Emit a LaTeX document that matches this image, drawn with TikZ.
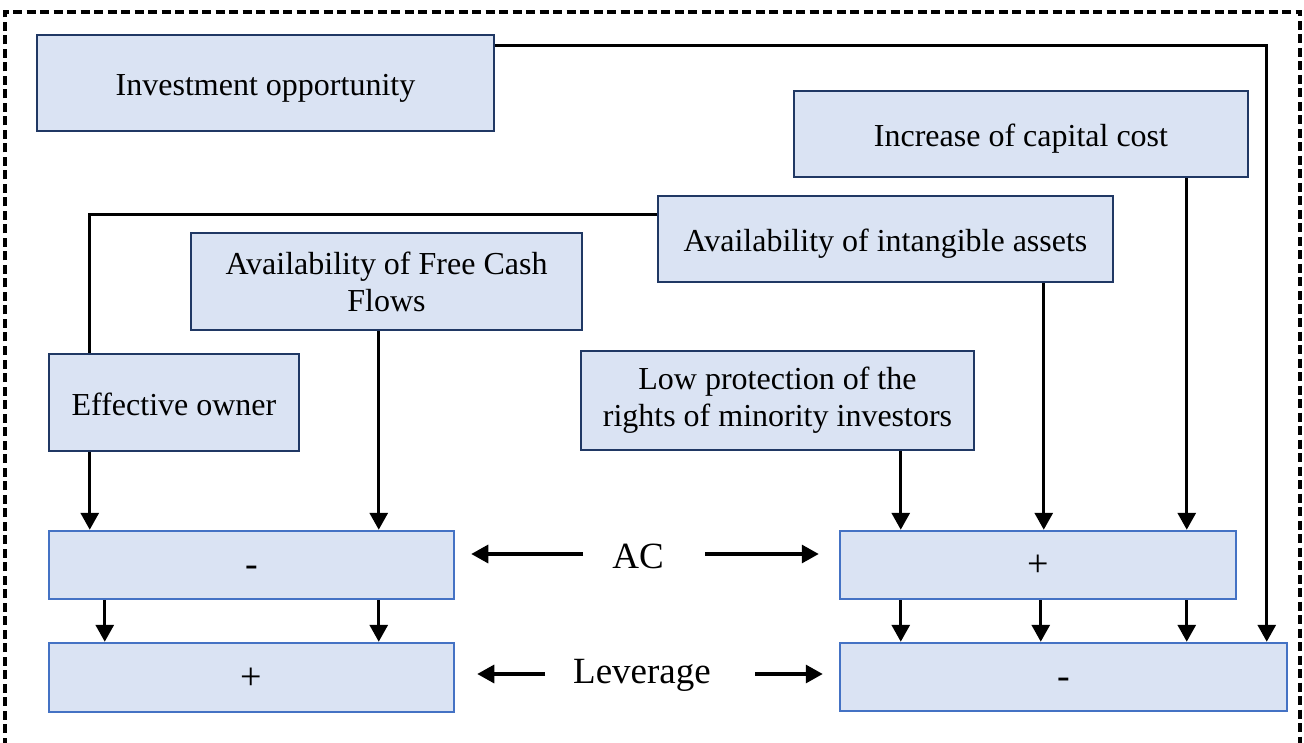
\documentclass[tikz,border=0pt]{standalone}
\usepackage{fontspec}
\setmainfont{Liberation Serif}
\usetikzlibrary{arrows.meta,calc}
\definecolor{boxfill}{HTML}{DAE3F3}
\definecolor{navyline}{HTML}{203864}
\definecolor{blueline}{HTML}{4472C4}
\begin{document}
\begin{tikzpicture}[x=1pt,y=-1pt,
  upbox/.style={draw=navyline,line width=2.5pt,fill=boxfill,inner sep=0pt,align=center,
     font=\fontsize{32}{37}\selectfont},
  oneline/.style={text height=30pt,text depth=5pt},
  lowbox/.style={draw=blueline,line width=2.5pt,fill=boxfill,inner sep=0pt,align=center,
     font=\fontsize{38}{44}\selectfont,text height=26pt,text depth=3pt},
  lbl/.style={inner sep=0pt,font=\fontsize{37}{44}\selectfont},
  conn/.style={line width=3.2pt},
  arr/.style={conn,-{Triangle[length=17pt,width=18pt]}},
  frame/.style={line width=3.4pt,dash pattern=on 9pt off 4.5pt}]
\useasboundingbox (0,0) rectangle (1304,743);
\clip (0,0) rectangle (1304,743);
\draw[frame] (5,760) -- (5,12) -- (1300,12) -- (1300,760);

\node[upbox,oneline,minimum width=457pt,minimum height=96pt] (inv) at (265.5,83) {Investment opportunity};
\node[upbox,oneline,minimum width=454pt,minimum height=86pt] (cap) at (1021,134) {Increase of capital cost};
\node[upbox,oneline,minimum width=455pt,minimum height=86pt] (intang) at (885.5,239) {Availability of intangible assets};
\node[upbox,minimum width=391pt,minimum height=97pt] (fcf) at (386.5,281.5) {Availability of Free Cash\\Flows};
\node[upbox,oneline,minimum width=250pt,minimum height=97pt] (owner) at (174,402.5) {Effective owner};
\node[upbox,minimum width=393pt,minimum height=99pt] (low) at (777.5,400.5) {Low protection of the\\rights of minority investors};

\node[lowbox,minimum width=405pt,minimum height=68pt] (lm) at (251.5,565) {-};
\node[lowbox,minimum width=405pt,minimum height=69pt] (lp) at (251.5,677.5) {+};
\node[lowbox,minimum width=396pt,minimum height=68pt] (rp) at (1038,565) {+};
\node[lowbox,minimum width=447pt,minimum height=68pt] (rm) at (1063.5,677) {-};

\node[lbl] (ac) at (638,556) {AC};
\node[lbl] (lev) at (642,675) {Leverage};

% Investment opportunity -> right "-" box
\coordinate (i1) at ($(inv.north east)+(0,12)$);
\draw[arr] (i1) -| ($(rm.north west)+(428,0)$);

% intangible assets -> effective owner
\coordinate (t1) at ($(intang.north west)+(0,20)$);
\coordinate (o1) at ($(owner.north west)+(42,0)$);
\draw[conn] (t1) -| (o1);

% into left "-" box
\coordinate (o2) at ($(owner.south west)+(42,0)$);
\draw[arr] (o2) -- (o2 |- lm.north);
\coordinate (f1) at ($(fcf.south west)+(189,0)$);
\draw[arr] (f1) -- (f1 |- lm.north);

% left "-" -> left "+"
\coordinate (l1) at ($(lm.south west)+(57,0)$);
\draw[arr] (l1) -- (l1 |- lp.north);
\coordinate (l2) at ($(lm.south west)+(331,0)$);
\draw[arr] (l2) -- (l2 |- lp.north);

% into right "+" box
\coordinate (p1) at ($(low.south west)+(321,0)$);
\draw[arr] (p1) -- (p1 |- rp.north);
\coordinate (p2) at ($(intang.south west)+(387,0)$);
\draw[arr] (p2) -- (p2 |- rp.north);
\coordinate (p3) at ($(cap.south west)+(394,0)$);
\draw[arr] (p3) -- (p3 |- rp.north);

% right "+" -> right "-"
\coordinate (r1) at ($(rp.south west)+(62,0)$);
\draw[arr] (r1) -- (r1 |- rm.north);
\coordinate (r2) at ($(rp.south west)+(202,0)$);
\draw[arr] (r2) -- (r2 |- rm.north);
\coordinate (r3) at ($(rp.south west)+(348,0)$);
\draw[arr] (r3) -- (r3 |- rm.north);

% AC arrows
\coordinate (a0) at ($(ac)+(0,-2)$);
\draw[arr,shorten <=55pt,shorten >=16pt] (a0) -- (a0 -| lm.east);
\draw[arr,shorten <=67pt,shorten >=20pt] (a0) -- (a0 -| rp.west);

% Leverage arrows
\coordinate (v0) at ($(lev)+(0,-1)$);
\draw[arr,shorten <=97pt,shorten >=22pt] (v0) -- (v0 -| lp.east);
\draw[arr,shorten <=113pt,shorten >=16pt] (v0) -- (v0 -| rm.west);
\end{tikzpicture}
\end{document}
